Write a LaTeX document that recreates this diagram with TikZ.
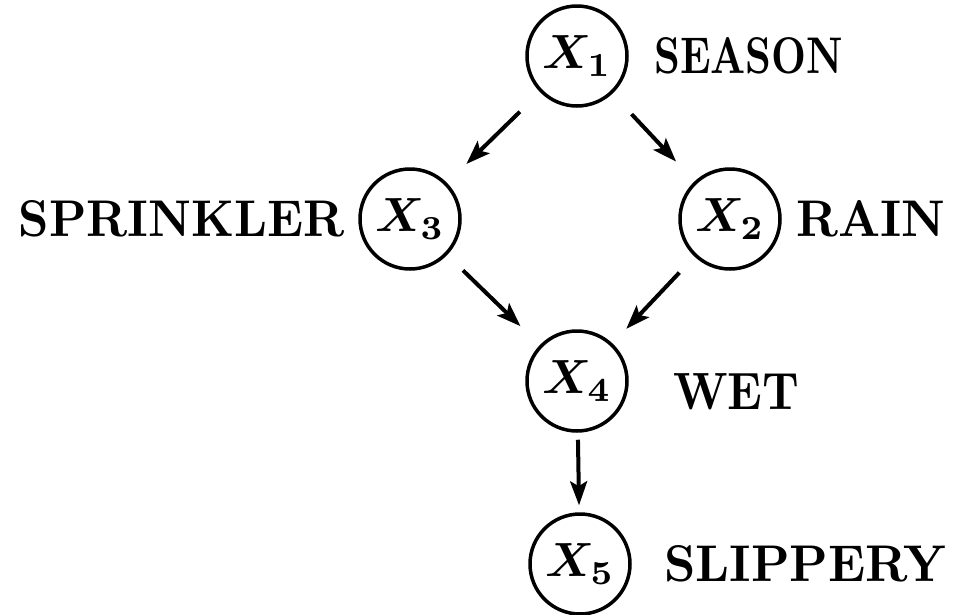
\documentclass[tikz,border=0pt]{standalone}
\usepackage{bm}
\usetikzlibrary{arrows.meta}
\tikzset{
  var/.style={circle,draw,line width=3.5pt,minimum size=100pt,inner sep=0pt},
  lab/.style={inner sep=0pt},
  edge/.style={line width=4pt,-{Stealth[length=24pt,width=17pt,inset=5pt]}}
}
\newcommand{\lbl}[2]{\resizebox{#1pt}{36pt}{\bfseries #2}}
\newcommand{\xv}[1]{\scalebox{4.8}{$\bm{X}_{\bm{#1}}$}}
\begin{document}
\begin{tikzpicture}[x=1pt,y=-1pt]
\useasboundingbox (0,0) rectangle (967,614);
\node[var] (x1) at (577,56) {\xv{1}};
\node[var] (x3) at (410,219) {\xv{3}};
\node[var] (x2) at (730,219) {\xv{2}};
\node[var] (x4) at (577,381) {\xv{4}};
\node[var] (x5) at (580,564) {\xv{5}};
\node[lab,anchor=west] (l1) at (654,56) {\lbl{189}{SEASON}};
\node[lab,anchor=east] (l3) at (345,219) {\lbl{326}{SPRINKLER}};
\node[lab,anchor=west] (l2) at (796,219) {\lbl{149}{RAIN}};
\node[lab,anchor=west] (l4) at (673,392) {\lbl{126}{WET}};
\node[lab,anchor=west] (l5) at (664,564) {\lbl{282}{SLIPPERY}};
\draw[edge,shorten <=28pt,shorten >=27pt] (x1) -- (x3);
\draw[edge,shorten <=28pt,shorten >=27pt] (x1) -- (x2);
\draw[edge,shorten <=22pt,shorten >=27pt] (x3) -- (x4);
\draw[edge,shorten <=22pt,shorten >=20pt] (x2) -- (x4);
\draw[edge,shorten <=7pt,shorten >=7pt] (x4) -- (x5);
\end{tikzpicture}
\end{document}
